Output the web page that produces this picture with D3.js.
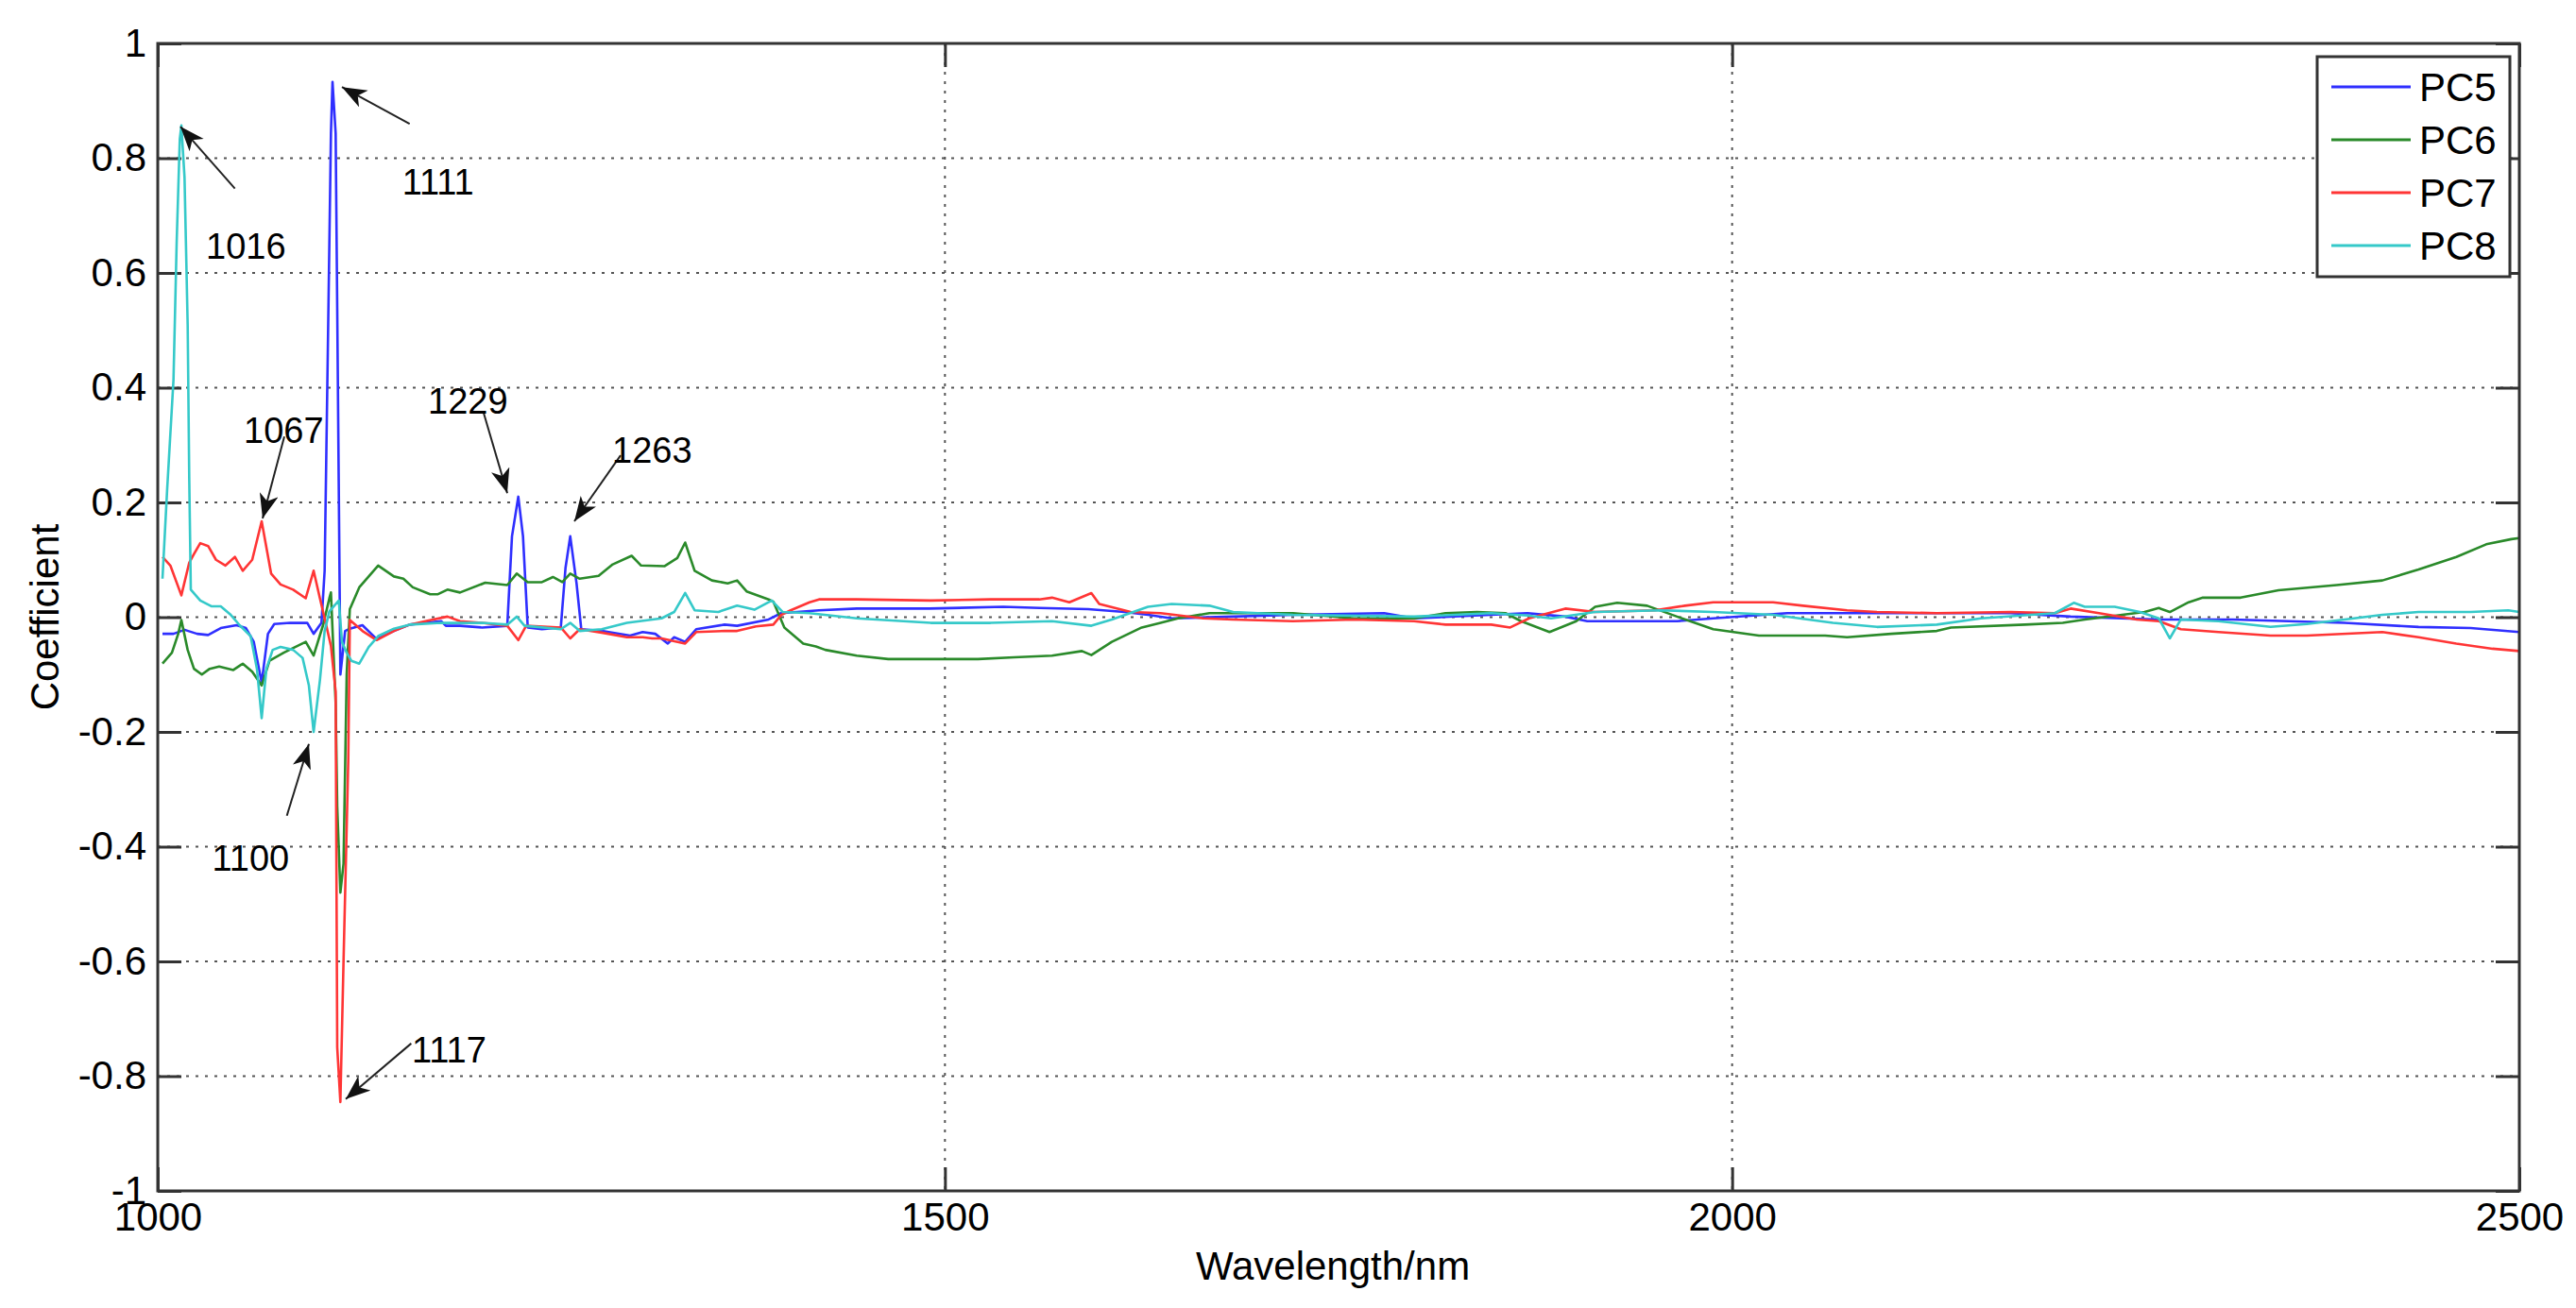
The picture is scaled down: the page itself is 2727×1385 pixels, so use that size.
<!DOCTYPE html>
<html>
<head>
<meta charset="utf-8">
<script src="https://cdn.jsdelivr.net/npm/d3@7"></script>
<style>
  body { margin: 0; background: #fff; }
  text { font-family: "Liberation Sans", Arial, Helvetica, sans-serif; fill: #000; }
</style>
</head>
<body>
<svg id="myChart" width="2727" height="1385"></svg>
<script>
// loadings as [wavelength nm, coefficient]
const pc5 = [[1003,-0.029],[1010,-0.029],[1017,-0.022],[1025,-0.029],[1032,-0.031],[1040,-0.019],[1050,-0.014],[1056,-0.019],[1061,-0.043],[1066,-0.114],[1070,-0.029],[1074,-0.012],[1084,-0.01],[1095,-0.01],[1099,-0.029],[1104,-0.01],[1106,0.081],[1108,0.46],[1110,0.843],[1111,0.933],[1113,0.843],[1114,0.538],[1116,-0.1],[1119,-0.024],[1122,-0.02],[1130,-0.014],[1139,-0.038],[1150,-0.024],[1160,-0.013],[1170,-0.01],[1180,-0.007],[1183,-0.015],[1192,-0.015],[1206,-0.018],[1222,-0.015],[1225,0.141],[1229,0.21],[1232,0.141],[1235,-0.018],[1244,-0.021],[1256,-0.018],[1259,0.086],[1262,0.141],[1266,0.059],[1269,-0.021],[1282,-0.024],[1300,-0.032],[1308,-0.026],[1316,-0.029],[1324,-0.046],[1328,-0.035],[1335,-0.043],[1342,-0.021],[1360,-0.013],[1368,-0.015],[1388,-0.004],[1396,0.007],[1420,0.012],[1444,0.015],[1490,0.015],[1537,0.018],[1560,0.016],[1591,0.014],[1614,0.009],[1629,0.004],[1644,-0.002],[1683,0.001],[1721,0.004],[1779,0.007],[1798,-0.002],[1830,0.002],[1870,0.007],[1894,0.001],[1908,-0.007],[1965,-0.007],[1988,-0.002],[2035,0.007],[2083,0.007],[2177,0.007],[2215,0.001],[2271,-0.004],[2318,-0.004],[2389,-0.01],[2436,-0.017],[2469,-0.019],[2500,-0.026]];

const pc6 = [[1003,-0.081],[1009,-0.062],[1013,-0.029],[1015,-0.005],[1019,-0.057],[1023,-0.09],[1028,-0.1],[1033,-0.09],[1039,-0.086],[1048,-0.092],[1054,-0.081],[1060,-0.095],[1066,-0.119],[1071,-0.076],[1080,-0.062],[1094,-0.043],[1099,-0.067],[1105,-0.014],[1109,0.033],[1110,0.043],[1113,-0.15],[1114,-0.33],[1116,-0.48],[1118,-0.43],[1120,-0.1],[1122,0.014],[1128,0.052],[1134,0.071],[1140,0.09],[1150,0.071],[1156,0.067],[1162,0.052],[1173,0.04],[1178,0.04],[1184,0.048],[1192,0.043],[1208,0.06],[1222,0.056],[1228,0.076],[1235,0.061],[1244,0.061],[1251,0.07],[1257,0.061],[1262,0.076],[1268,0.067],[1280,0.072],[1289,0.092],[1301,0.107],[1307,0.09],[1322,0.089],[1330,0.103],[1335,0.13],[1341,0.081],[1352,0.064],[1362,0.059],[1368,0.064],[1374,0.045],[1388,0.031],[1391,0.027],[1398,-0.018],[1410,-0.046],[1418,-0.051],[1424,-0.057],[1444,-0.067],[1464,-0.073],[1498,-0.073],[1521,-0.073],[1544,-0.07],[1568,-0.067],[1587,-0.059],[1593,-0.066],[1606,-0.043],[1625,-0.018],[1637,-0.01],[1648,-0.002],[1668,0.007],[1721,0.007],[1760,-0.002],[1798,-0.002],[1818,0.007],[1838,0.009],[1856,0.007],[1866,-0.007],[1884,-0.026],[1901,-0.007],[1913,0.018],[1927,0.025],[1946,0.02],[1965,0.001],[1988,-0.021],[2017,-0.032],[2059,-0.032],[2073,-0.035],[2101,-0.029],[2130,-0.024],[2139,-0.018],[2186,-0.013],[2210,-0.01],[2224,-0.004],[2262,0.009],[2271,0.016],[2278,0.009],[2290,0.026],[2299,0.034],[2323,0.034],[2347,0.047],[2384,0.056],[2413,0.064],[2436,0.083],[2460,0.105],[2479,0.127],[2495,0.136],[2500,0.138]];

const pc7 = [[1003,0.105],[1008,0.09],[1015,0.038],[1020,0.095],[1023,0.11],[1027,0.129],[1032,0.124],[1037,0.1],[1043,0.09],[1049,0.105],[1054,0.081],[1060,0.1],[1066,0.167],[1072,0.076],[1078,0.057],[1086,0.048],[1094,0.033],[1099,0.081],[1103,0.033],[1107,-0.014],[1110,-0.05],[1113,-0.13],[1114,-0.75],[1116,-0.845],[1118,-0.6],[1121,-0.25],[1122,-0.005],[1130,-0.024],[1139,-0.04],[1150,-0.024],[1160,-0.013],[1170,-0.007],[1184,0.001],[1192,-0.007],[1206,-0.01],[1222,-0.015],[1229,-0.04],[1234,-0.015],[1256,-0.018],[1262,-0.037],[1268,-0.021],[1282,-0.027],[1298,-0.035],[1308,-0.035],[1314,-0.037],[1320,-0.037],[1335,-0.046],[1342,-0.026],[1360,-0.024],[1368,-0.024],[1380,-0.016],[1391,-0.013],[1396,0.004],[1402,0.012],[1414,0.026],[1420,0.031],[1444,0.031],[1491,0.029],[1529,0.031],[1560,0.031],[1568,0.034],[1579,0.026],[1593,0.042],[1598,0.023],[1618,0.009],[1637,0.007],[1664,-0.002],[1683,-0.004],[1721,-0.007],[1760,-0.004],[1798,-0.007],[1818,-0.013],[1847,-0.013],[1859,-0.018],[1871,-0.002],[1894,0.015],[1913,0.009],[1951,0.012],[1970,0.02],[1988,0.026],[2026,0.026],[2045,0.02],[2073,0.012],[2092,0.009],[2130,0.007],[2177,0.009],[2205,0.007],[2215,0.015],[2233,0.007],[2257,-0.004],[2271,-0.007],[2285,-0.021],[2309,-0.026],[2342,-0.032],[2365,-0.032],[2413,-0.026],[2436,-0.035],[2460,-0.046],[2483,-0.055],[2500,-0.059]];

const pc8 = [[1003,0.067],[1006,0.224],[1010,0.414],[1012,0.652],[1014,0.833],[1015,0.857],[1017,0.767],[1019,0.51],[1020,0.243],[1021,0.048],[1027,0.029],[1034,0.019],[1040,0.019],[1046,0.005],[1052,-0.014],[1059,-0.033],[1063,-0.09],[1066,-0.176],[1069,-0.09],[1073,-0.057],[1078,-0.052],[1086,-0.057],[1092,-0.071],[1096,-0.119],[1099,-0.2],[1103,-0.11],[1106,-0.024],[1109,0.01],[1115,0.029],[1117,-0.043],[1120,-0.062],[1123,-0.076],[1128,-0.081],[1134,-0.052],[1140,-0.033],[1150,-0.02],[1160,-0.013],[1180,-0.01],[1206,-0.01],[1222,-0.013],[1228,0.001],[1233,-0.015],[1256,-0.021],[1262,-0.01],[1268,-0.024],[1282,-0.021],[1298,-0.01],[1320,-0.002],[1328,0.009],[1335,0.042],[1341,0.012],[1356,0.009],[1368,0.02],[1379,0.013],[1390,0.029],[1397,0.009],[1414,0.007],[1444,-0.002],[1491,-0.01],[1529,-0.01],[1568,-0.007],[1593,-0.015],[1606,-0.004],[1629,0.018],[1644,0.023],[1668,0.02],[1683,0.009],[1721,0.004],[1798,0.001],[1847,0.007],[1870,0.003],[1885,-0.002],[1913,0.009],[1955,0.012],[1988,0.009],[2026,0.004],[2064,-0.01],[2092,-0.017],[2130,-0.013],[2158,-0.002],[2205,0.007],[2217,0.025],[2224,0.018],[2243,0.018],[2259,0.009],[2271,-0.002],[2278,-0.037],[2285,-0.004],[2309,-0.007],[2342,-0.017],[2365,-0.012],[2389,-0.004],[2413,0.004],[2436,0.009],[2469,0.009],[2493,0.012],[2500,0.009]];

const seriesNames = ["PC5", "PC6", "PC7", "PC8"];
const seriesColors = ["#2f2fff", "#2a8a2a", "#ff3535", "#35c9c9"];

const xTicks = [1000, 1500, 2000, 2500];
const yTicks = [-1, -0.8, -0.6, -0.4, -0.2, 0, 0.2, 0.4, 0.6, 0.8, 1];

// peak annotations, in data units: label anchor, arrow tail, arrow tip
const peakLabels = ["1016", "1111", "1067", "1229", "1263", "1100", "1117"];
const labelAt = [[1056, 0.625], [1178, 0.737], [1080, 0.304], [1197, 0.355], [1314, 0.269], [1059, -0.442], [1185, -0.776]];
const arrowFrom = [[1049, 0.747], [1160, 0.86], [1080.4, 0.315], [1207, 0.356], [1294, 0.282], [1082, -0.346], [1161, -0.743]];
const arrowTo = [[1014.4, 0.855], [1117, 0.924], [1066.6, 0.172], [1222, 0.216], [1264.6, 0.167], [1096, -0.221], [1119.4, -0.84]];

class CoefficientChart {

    constructor(series) {
        this.render(series);
    }

    render(series) {
        let svg = d3.select("#myChart"),
            margin = {top: 46, right: 60, bottom: 124, left: 167},
            width = +svg.attr("width") - margin.left - margin.right,
            height = +svg.attr("height") - margin.top - margin.bottom;

        let x = d3.scaleLinear().domain([1000, 2500]).range([0, width]);
        let y = d3.scaleLinear().domain([-1, 1]).range([height, 0]);

        svg.append("defs").append("marker")
            .attr("id", "head")
            .attr("markerUnits", "userSpaceOnUse")
            .attr("markerWidth", 28).attr("markerHeight", 22)
            .attr("refX", 26).attr("refY", 10)
            .attr("orient", "auto")
            .append("path")
            .attr("d", "M0,0 L26,10 L0,20 L7,10 Z")
            .attr("fill", "#111");

        let g = svg.append("g").attr("transform", "translate(" + margin.left + "," + margin.top + ")");

        // dotted grid
        g.selectAll(".hgrid")
            .data(yTicks.filter(function(d) { return d > -1 && d < 1; }))
            .enter().append("line")
            .attr("x1", 0).attr("x2", width)
            .attr("y1", function(d) { return y(d); }).attr("y2", function(d) { return y(d); })
            .attr("stroke", "#555").attr("stroke-width", 2).attr("stroke-dasharray", "3,7");

        g.selectAll(".vgrid")
            .data(xTicks.filter(function(d) { return d > 1000 && d < 2500; }))
            .enter().append("line")
            .attr("y1", 0).attr("y2", height)
            .attr("x1", function(d) { return x(d); }).attr("x2", function(d) { return x(d); })
            .attr("stroke", "#555").attr("stroke-width", 2).attr("stroke-dasharray", "3,7");

        // axes, MATLAB style ticks pointing inward on all four sides
        let yLeft = g.append("g")
            .call(d3.axisLeft(y).tickValues(yTicks).tickSizeInner(-25).tickSizeOuter(0).tickPadding(12)
                .tickFormat(function(d) { return String(d); }));
        let yRight = g.append("g").attr("transform", "translate(" + width + ",0)")
            .call(d3.axisRight(y).tickValues(yTicks).tickSizeInner(-25).tickSizeOuter(0).tickFormat(""));
        let xBottom = g.append("g").attr("transform", "translate(0," + height + ")")
            .call(d3.axisBottom(x).tickValues(xTicks).tickSizeInner(-25).tickSizeOuter(0).tickPadding(12)
                .tickFormat(d3.format("d")));
        let xTop = g.append("g")
            .call(d3.axisTop(x).tickValues(xTicks).tickSizeInner(-25).tickSizeOuter(0).tickFormat(""));

        [yLeft, yRight, xBottom, xTop].forEach(function(a) {
            a.select(".domain").remove();
            a.selectAll(".tick line").attr("stroke", "#333").attr("stroke-width", 3);
            a.selectAll("text").style("font-size", "42px").attr("fill", "#000");
        });

        // the series
        let line = d3.line()
            .x(function(d) { return x(d[0]); })
            .y(function(d) { return y(d[1]); });

        g.selectAll(".series")
            .data(series)
            .enter().append("path")
            .attr("class", "series")
            .attr("d", function(d) { return line(d); })
            .attr("fill", "none")
            .attr("stroke", function(d, i) { return seriesColors[i]; })
            .attr("stroke-width", 2.6)
            .attr("stroke-linejoin", "round");

        // box
        g.append("rect")
            .attr("width", width).attr("height", height)
            .attr("fill", "none").attr("stroke", "#333").attr("stroke-width", 3);

        // peak annotations
        g.selectAll(".arrow")
            .data(peakLabels)
            .enter().append("line")
            .attr("x1", function(d, i) { return x(arrowFrom[i][0]); })
            .attr("y1", function(d, i) { return y(arrowFrom[i][1]); })
            .attr("x2", function(d, i) { return x(arrowTo[i][0]); })
            .attr("y2", function(d, i) { return y(arrowTo[i][1]); })
            .attr("stroke", "#222").attr("stroke-width", 2)
            .attr("marker-end", "url(#head)");

        g.selectAll(".peak")
            .data(peakLabels)
            .enter().append("text")
            .attr("x", function(d, i) { return x(labelAt[i][0]); })
            .attr("y", function(d, i) { return y(labelAt[i][1]); })
            .attr("text-anchor", "middle")
            .style("font-size", "38px")
            .text(function(d) { return d; });

        // axis titles
        svg.append("text")
            .attr("x", margin.left + width / 2 - 6)
            .attr("y", 1355)
            .attr("text-anchor", "middle")
            .style("font-size", "42px")
            .text("Wavelength/nm");

        svg.append("text")
            .attr("transform", "translate(62," + (margin.top + height / 2) + ") rotate(-90)")
            .attr("text-anchor", "middle")
            .style("font-size", "42px")
            .text("Coefficient");

        // legend
        let legend = g.append("g").attr("transform", "translate(" + (width - 214) + ",14)");
        legend.append("rect")
            .attr("width", 204).attr("height", 233)
            .attr("fill", "#fff").attr("stroke", "#333").attr("stroke-width", 3);

        let entry = legend.selectAll(".entry")
            .data(seriesNames)
            .enter().append("g")
            .attr("transform", function(d, i) { return "translate(0," + (32 + i * 56) + ")"; });

        entry.append("line")
            .attr("x1", 15).attr("x2", 99)
            .attr("stroke", function(d, i) { return seriesColors[i]; })
            .attr("stroke-width", 3);

        entry.append("text")
            .attr("x", 108).attr("y", 15)
            .style("font-size", "42px")
            .text(function(d) { return d; });
    }

}

new CoefficientChart([pc5, pc6, pc7, pc8]);
</script>
</body>
</html>
